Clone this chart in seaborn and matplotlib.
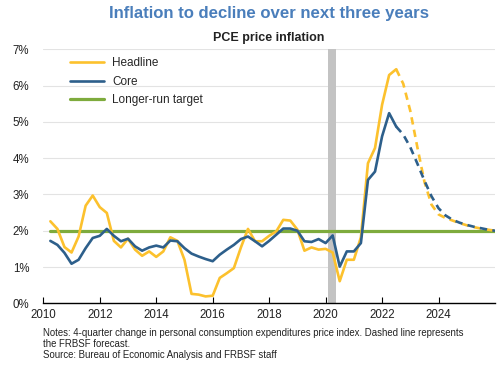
import matplotlib
matplotlib.use("Agg")
import matplotlib.pyplot as plt
import numpy as np
import pandas as pd
import seaborn as sns

sns.set_theme(style="white")
plt.rcParams["font.family"] = ["Liberation Sans", "DejaVu Sans"]

# quarterly observations, 2010.25 .. 2022.5
quarters = np.arange(2010.25, 2022.51, 0.25)
headline = [2.26, 2.05, 1.55, 1.40, 1.84, 2.69, 2.97, 2.65, 2.49, 1.72,
            1.54, 1.78, 1.48, 1.31, 1.43, 1.28, 1.43, 1.82, 1.72, 1.20,
            0.26, 0.24, 0.19, 0.21, 0.70, 0.83, 0.97, 1.54, 2.05, 1.71,
            1.71, 1.86, 1.98, 2.30, 2.28, 2.03, 1.45, 1.54, 1.48, 1.50,
            1.40, 0.61, 1.20, 1.20, 1.82, 3.86, 4.28, 5.47, 6.29, 6.45]
core = [1.72, 1.61, 1.39, 1.09, 1.20, 1.52, 1.80, 1.86, 2.05, 1.86,
        1.71, 1.78, 1.57, 1.45, 1.54, 1.59, 1.54, 1.73, 1.71, 1.52,
        1.37, 1.29, 1.22, 1.16, 1.34, 1.48, 1.61, 1.77, 1.84, 1.71,
        1.57, 1.72, 1.89, 2.06, 2.06, 2.00, 1.71, 1.69, 1.77, 1.66,
        1.87, 1.01, 1.43, 1.43, 1.66, 3.40, 3.63, 4.60, 5.24, 4.87]

# FRBSF forecast, 2022.5 .. 2026.0
fc_quarters = np.arange(2022.5, 2026.01, 0.25)
headline_fc = [6.45, 6.05, 5.30, 4.30, 3.35, 2.72, 2.45, 2.35, 2.28, 2.21,
               2.15, 2.10, 2.06, 2.03, 2.00]
core_fc = [4.87, 4.65, 4.30, 3.85, 3.38, 2.95, 2.62, 2.42, 2.30, 2.22,
           2.16, 2.11, 2.07, 2.03, 2.00]

target_years = [2010.25, 2026.0]
target = [2.0, 2.0]

recession = (2020.1, 2020.36)
x_ticks = list(range(2010, 2025, 2))
y_ticks = list(range(0, 8))
y_labels = [f"{v}%" for v in y_ticks]

yellow = "#fcc12d"
blue = "#2d5f8b"
green = "#7eab3d"

df = pd.DataFrame({"year": quarters, "headline": headline, "core": core})
fc = pd.DataFrame({"year": fc_quarters, "headline": headline_fc, "core": core_fc})

fig = plt.figure(figsize=(5, 3.65), dpi=100)
ax = fig.add_axes([0.0866, 0.169, 0.9034, 0.696])

ax.axvspan(*recession, color="#c3c3c3", lw=0, zorder=1)

sns.lineplot(x=target_years, y=target, color=green, lw=2.3, ax=ax,
             label="Longer-run target", zorder=2)
sns.lineplot(data=df, x="year", y="headline", color=yellow, lw=1.9, ax=ax,
             label="Headline", zorder=3)
sns.lineplot(data=df, x="year", y="core", color=blue, lw=1.9, ax=ax,
             label="Core", zorder=4)
sns.lineplot(data=fc, x="year", y="headline", color=yellow, lw=1.9, ax=ax,
             linestyle=(0, (2.8, 2.0)), zorder=3)
sns.lineplot(data=fc, x="year", y="core", color=blue, lw=1.9, ax=ax,
             linestyle=(0, (2.8, 2.0)), zorder=4)

ax.set_xlim(2010, 2026)
ax.set_ylim(0, 7)
ax.set_xticks(x_ticks)
ax.set_xticklabels([str(t) for t in x_ticks], fontsize=8.3, color="#222222")
ax.set_yticks(y_ticks)
ax.set_yticklabels(y_labels, fontsize=8.3, color="#222222")
ax.set_xlabel("")
ax.set_ylabel("")
ax.grid(axis="y", color="#e3e3e3", lw=0.8)
ax.set_axisbelow(True)
for s in ["left", "right", "top"]:
    ax.spines[s].set_visible(False)
ax.spines["bottom"].set_color("black")
ax.spines["bottom"].set_linewidth(1.0)
ax.tick_params(axis="x", direction="in", length=4, width=0.8, color="black",
               bottom=True, pad=4)
ax.tick_params(axis="y", length=0, pad=10)

handles, labels = ax.get_legend_handles_labels()
order = [labels.index(n) for n in ["Headline", "Core", "Longer-run target"]]
ax.legend([handles[i] for i in order], [labels[i] for i in order],
          loc="upper left", bbox_to_anchor=(0.035, 1.01), frameon=False,
          fontsize=8.5, handlelength=2.9, handletextpad=0.7, labelspacing=0.55)

fig.text(0.538, 0.964, "Inflation to decline over next three years",
         ha="center", va="center", fontsize=12.1, fontweight="bold",
         color="#4a7ebb")
fig.text(0.538, 0.896, "PCE price inflation", ha="center", va="center",
         fontsize=9.0, fontweight="bold", color="#222222")
fig.text(0.086, 0.101,
         "Notes: 4-quarter change in personal consumption expenditures price index. "
         "Dashed line represents\nthe FRBSF forecast.\n"
         "Source: Bureau of Economic Analysis and FRBSF staff",
         ha="left", va="top", fontsize=6.9, color="#222222", linespacing=1.12)

fig.savefig("out.png", dpi=100)
